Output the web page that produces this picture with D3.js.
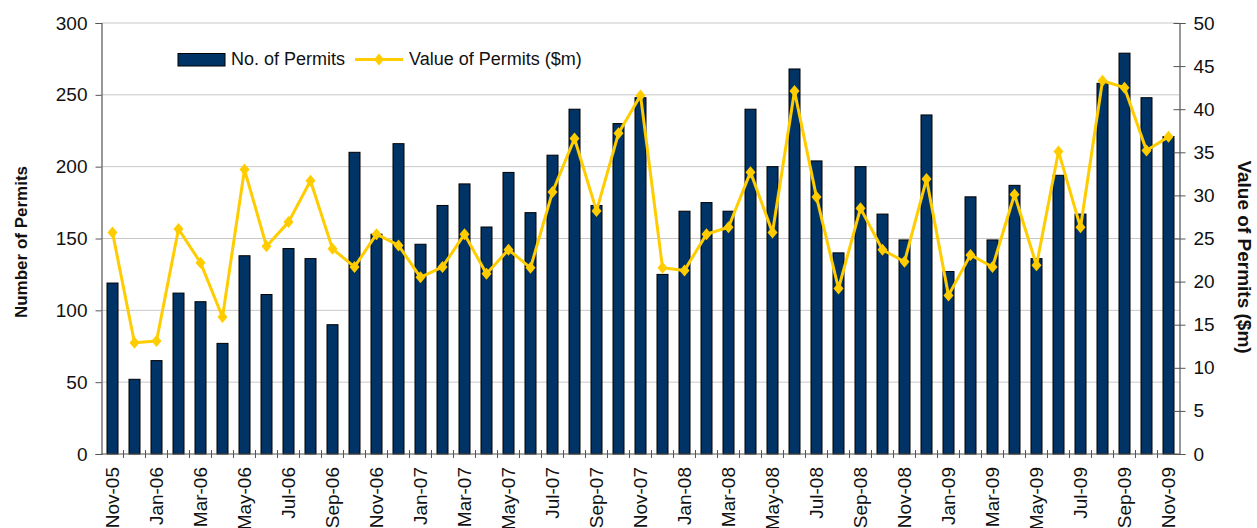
<!DOCTYPE html>
<html>
<head>
<meta charset="utf-8">
<script src="https://cdn.jsdelivr.net/npm/d3@7"></script>
<style>
  body { margin: 0; background: #fff; }
  text { font-family: "Liberation Sans", Arial, sans-serif; fill: #111; }
</style>
</head>
<body>
<div id="chart"></div>
<script>
// months Nov-05 .. Nov-09
var months = ["Nov-05","Dec-05","Jan-06","Feb-06","Mar-06","Apr-06","May-06","Jun-06","Jul-06","Aug-06","Sep-06","Oct-06",
  "Nov-06","Dec-06","Jan-07","Feb-07","Mar-07","Apr-07","May-07","Jun-07","Jul-07","Aug-07","Sep-07","Oct-07",
  "Nov-07","Dec-07","Jan-08","Feb-08","Mar-08","Apr-08","May-08","Jun-08","Jul-08","Aug-08","Sep-08","Oct-08",
  "Nov-08","Dec-08","Jan-09","Feb-09","Mar-09","Apr-09","May-09","Jun-09","Jul-09","Aug-09","Sep-09","Oct-09","Nov-09"];

var permitCount = [119, 52, 65, 112, 106, 77, 138, 111, 143, 136, 90, 210,
  153, 216, 146, 173, 188, 158, 196, 168, 208, 240, 173, 230,
  248, 125, 169, 175, 169, 240, 200, 268, 204, 140, 200, 167,
  149, 236, 127, 179, 149, 187, 136, 194, 167, 258, 279, 248, 221];

var permitValue = [25.7, 12.9, 13.1, 26.1, 22.2, 15.9, 33.0, 24.1, 26.9, 31.7, 23.8, 21.7,
  25.5, 24.2, 20.5, 21.7, 25.5, 20.9, 23.7, 21.6, 30.4, 36.6, 28.2, 37.2,
  41.6, 21.6, 21.3, 25.5, 26.3, 32.7, 25.7, 42.1, 29.8, 19.2, 28.5, 23.7,
  22.3, 31.9, 18.4, 23.1, 21.7, 30.1, 21.9, 35.1, 26.3, 43.3, 42.5, 35.2, 36.8];

var leftTicks = [0, 50, 100, 150, 200, 250, 300];
var rightTicks = [0, 5, 10, 15, 20, 25, 30, 35, 40, 45, 50];

var svgWidth = 1257;
var svgHeight = 528;
var margin = { top: 23, bottom: 74, left: 101.5, right: 77.5 };
var chartWidth = svgWidth - margin.left - margin.right;
var chartHeight = svgHeight - margin.top - margin.bottom;

var barColor = "#003366";
var lineColor = "#FFCC00";

var svg = d3.select("#chart")
    .append("svg")
    .attr("width", svgWidth)
    .attr("height", svgHeight);

var chartGroup = svg.append("g")
    .attr("transform", `translate(${margin.left}, ${margin.top})`);

var x = d3.scaleBand()
    .domain(months)
    .range([0, chartWidth])
    .paddingInner(0.5)
    .paddingOuter(0.25);
var xOuter = d3.scaleBand().domain(months).range([0, chartWidth]);

var yLeft = d3.scaleLinear().domain([0, 300]).range([chartHeight, 0]);
var yRight = d3.scaleLinear().domain([0, 50]).range([chartHeight, 0]);

// gridlines
chartGroup.append("g")
    .selectAll("line")
    .data(leftTicks.slice(1))
    .enter()
    .append("line")
    .attr("x1", 0)
    .attr("x2", chartWidth)
    .attr("y1", d => yLeft(d))
    .attr("y2", d => yLeft(d))
    .attr("stroke", "#c8c8c8")
    .attr("stroke-width", 1);

// bars
chartGroup.append("g")
    .selectAll("rect")
    .data(permitCount)
    .enter()
    .append("rect")
    .attr("x", (d, i) => x(months[i]))
    .attr("y", d => yLeft(d))
    .attr("width", x.bandwidth())
    .attr("height", d => chartHeight - yLeft(d))
    .attr("fill", barColor)
    .attr("stroke", "#000")
    .attr("stroke-width", 1);

// axes
var leftAxis = d3.axisLeft(yLeft).tickValues(leftTicks).tickSize(6).tickPadding(8);
var rightAxis = d3.axisRight(yRight).tickValues(rightTicks).tickSize(6).tickPadding(8);

var yAxisL = chartGroup.append("g").call(leftAxis);
var yAxisR = chartGroup.append("g")
    .attr("transform", `translate(${chartWidth}, 0)`)
    .call(rightAxis);

[yAxisL, yAxisR].forEach(function(ax) {
    ax.select(".domain").attr("stroke", "#555").attr("stroke-width", 1.2);
    ax.selectAll(".tick line").attr("stroke", "#555");
    ax.selectAll("text")
        .style("font-size", "19px")
        .style("fill", "#111")
        .style("font-family", "'Liberation Sans', Arial, sans-serif");
});
yAxisR.selectAll(".tick line").attr("x1", -6);

// x axis line and ticks at category boundaries
chartGroup.append("line")
    .attr("x1", 0).attr("x2", chartWidth)
    .attr("y1", chartHeight).attr("y2", chartHeight)
    .attr("stroke", "#555").attr("stroke-width", 1.2);

chartGroup.append("g")
    .selectAll("line")
    .data(months.slice(1))
    .enter()
    .append("line")
    .attr("x1", d => xOuter(d))
    .attr("x2", d => xOuter(d))
    .attr("y1", chartHeight - 4)
    .attr("y2", chartHeight + 4)
    .attr("stroke", "#555");

// x labels, every second month
chartGroup.append("g")
    .selectAll("text")
    .data(months.filter((d, i) => i % 2 === 0))
    .enter()
    .append("text")
    .attr("transform", d => `translate(${xOuter(d) + xOuter.bandwidth() / 2}, ${chartHeight + 13}) rotate(-90)`)
    .attr("dy", "0.35em")
    .attr("text-anchor", "end")
    .style("font-size", "19px")
    .text(d => d);

// value line
var line = d3.line()
    .x((d, i) => xOuter(months[i]) + xOuter.bandwidth() / 2)
    .y(d => yRight(d));

chartGroup.append("path")
    .datum(permitValue)
    .attr("d", line)
    .attr("fill", "none")
    .attr("stroke", lineColor)
    .attr("stroke-width", 3)
    .attr("stroke-linejoin", "round");

var diamond = "M0,-6L5,0L0,6L-5,0Z";
chartGroup.append("g")
    .selectAll("path")
    .data(permitValue)
    .enter()
    .append("path")
    .attr("d", diamond)
    .attr("transform", (d, i) => `translate(${xOuter(months[i]) + xOuter.bandwidth() / 2}, ${yRight(d)})`)
    .attr("fill", lineColor);

// axis titles
svg.append("text")
    .attr("transform", "translate(27, 242) rotate(-90)")
    .attr("text-anchor", "middle")
    .style("font-size", "17px")
    .style("font-weight", "bold")
    .text("Number of Permits");

svg.append("text")
    .attr("transform", "translate(1238, 257) rotate(90)")
    .attr("text-anchor", "middle")
    .style("font-size", "19px")
    .style("font-weight", "bold")
    .text("Value of Permits ($m)");

// legend
var legend = svg.append("g");
legend.append("rect")
    .attr("x", 178).attr("y", 53.5)
    .attr("width", 47).attr("height", 12.5)
    .attr("fill", barColor)
    .attr("stroke", "#000");
legend.append("text")
    .attr("x", 231).attr("y", 65)
    .style("font-size", "18px")
    .text("No. of Permits");
legend.append("line")
    .attr("x1", 355).attr("x2", 403)
    .attr("y1", 59.5).attr("y2", 59.5)
    .attr("stroke", lineColor)
    .attr("stroke-width", 3);
legend.append("path")
    .attr("d", diamond)
    .attr("transform", "translate(379, 59.5)")
    .attr("fill", lineColor);
legend.append("text")
    .attr("x", 409).attr("y", 65)
    .style("font-size", "18px")
    .text("Value of Permits ($m)");
</script>
</body>
</html>
